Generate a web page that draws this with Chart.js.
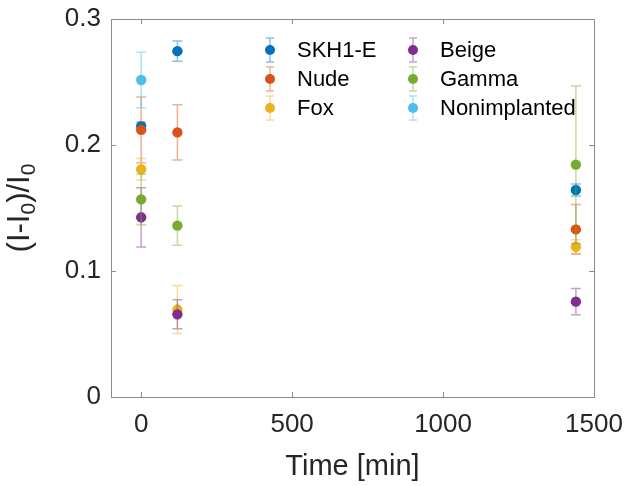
<!DOCTYPE html>
<html>
<head>
<meta charset="utf-8">
<script src="https://cdn.jsdelivr.net/npm/chart.js@4.4.0/dist/chart.umd.min.js"></script>
<style>
html, body { margin: 0; padding: 0; background: #fff; }
</style>
</head>
<body>
<canvas id="myChart" width="627" height="486"></canvas>
<script>
// time points (min)
var times = [0, 120, 1440];

var names = ['SKH1-E', 'Nude', 'Fox', 'Beige', 'Gamma', 'Nonimplanted'];

// means and error half-widths
var skh1e = [0.215, 0.2745, 0.1643];
var skh1eErr = [0.003, 0.008, 0.0048];
var nude = [0.212, 0.210, 0.133];
var nudeErr = [0.026, 0.022, 0.0197];
var fox = [0.1807, 0.0694, 0.1193];
var foxErr = [0.0085, 0.019, 0.0055];
var beige = [0.1426, 0.0656, 0.0757];
var beigeErr = [0.0235, 0.0115, 0.0105];
var gamma = [0.1568, 0.136, 0.1844];
var gammaErr = [0.020, 0.0155, 0.0625];
var nonimpl = [0.2516, null, null];
var nonimplErr = [0.022, null, null];

var xTicks = [0, 500, 1000, 1500];
var yTicks = [0, 0.1, 0.2, 0.3];

var colors = ['#0072BD', '#D95319', '#EDB120', '#7E2F8E', '#77AC30', '#4DBEEE'];
var barColors = ['rgba(0,114,189,0.45)', 'rgba(217,83,25,0.45)', 'rgba(237,177,32,0.45)',
                 'rgba(126,47,142,0.45)', 'rgba(119,172,48,0.45)', 'rgba(77,190,238,0.45)'];

var series = [skh1e, nude, fox, beige, gamma, nonimpl];
var errs = [skh1eErr, nudeErr, foxErr, beigeErr, gammaErr, nonimplErr];

var datasets = series.map(function (vals, i) {
    var pts = [], e = [];
    times.forEach(function (t, j) {
        if (vals[j] != null) {
            pts.push({x: t, y: vals[j]});
            e.push(errs[i][j]);
        }
    });
    return {
        label: names[i],
        data: pts,
        errors: e,
        barColor: barColors[i],
        backgroundColor: colors[i],
        borderWidth: 0,
        pointRadius: 5.2,
        pointHoverRadius: 5.2,
        order: names.length - i
    };
});

var axisColor = '#8c8c8c';
var textColor = '#262626';

/* error bars, drawn just before each dataset's markers */
var errorBars = {
    id: 'errorBars',
    beforeDatasetDraw: function (chart, args) {
        var ds = chart.data.datasets[args.index];
        var xs = chart.scales.x, ys = chart.scales.y;
        var ctx = chart.ctx;
        ctx.save();
        ctx.strokeStyle = ds.barColor;
        ctx.lineWidth = 1.5;
        ds.data.forEach(function (p, k) {
            var px = xs.getPixelForValue(p.x);
            var top = ys.getPixelForValue(p.y + ds.errors[k]);
            var bot = ys.getPixelForValue(p.y - ds.errors[k]);
            ctx.beginPath();
            ctx.moveTo(px, top); ctx.lineTo(px, bot);
            ctx.moveTo(px - 5, top); ctx.lineTo(px + 5, top);
            ctx.moveTo(px - 5, bot); ctx.lineTo(px + 5, bot);
            ctx.stroke();
        });
        ctx.restore();
    }
};

/* box, inward ticks, axis titles and the two-column legend */
var decorations = {
    id: 'decorations',
    afterDraw: function (chart) {
        var ctx = chart.ctx, a = chart.chartArea;
        var xs = chart.scales.x, ys = chart.scales.y;
        ctx.save();
        ctx.strokeStyle = axisColor;
        ctx.lineWidth = 1;
        ctx.strokeRect(Math.round(a.left) + 0.5, Math.round(a.top) + 0.5,
            Math.round(a.right - a.left), Math.round(a.bottom - a.top));
        ctx.beginPath();
        xTicks.forEach(function (v) {
            var px = Math.round(xs.getPixelForValue(v)) + 0.5;
            ctx.moveTo(px, a.bottom); ctx.lineTo(px, a.bottom - 5);
            ctx.moveTo(px, a.top); ctx.lineTo(px, a.top + 5);
        });
        yTicks.forEach(function (v) {
            var py = Math.round(ys.getPixelForValue(v)) + 0.5;
            ctx.moveTo(a.left, py); ctx.lineTo(a.left + 5, py);
            ctx.moveTo(a.right, py); ctx.lineTo(a.right - 5, py);
        });
        ctx.stroke();

        // x title
        ctx.fillStyle = textColor;
        ctx.font = '29px "Liberation Sans", Arial, sans-serif';
        ctx.textAlign = 'center';
        ctx.textBaseline = 'alphabetic';
        ctx.fillText('Time [min]', (a.left + a.right) / 2, 475);

        // y title with subscripts
        var parts = [['(I-I', 0], ['0', 1], [')/I', 0], ['0', 1]];
        var big = '31px "Liberation Sans", Arial, sans-serif';
        var small = '21px "Liberation Sans", Arial, sans-serif';
        var w = 0;
        parts.forEach(function (p) { ctx.font = p[1] ? small : big; w += ctx.measureText(p[0]).width; });
        ctx.translate(29, (a.top + a.bottom) / 2);
        ctx.rotate(-Math.PI / 2);
        ctx.textAlign = 'left';
        var cx = -w / 2;
        parts.forEach(function (p) {
            ctx.font = p[1] ? small : big;
            ctx.fillText(p[0], cx, p[1] ? 6 : 0);
            cx += ctx.measureText(p[0]).width;
        });
        ctx.setTransform(1, 0, 0, 1, 0, 0);

        // legend
        ctx.font = '22px "Liberation Sans", Arial, sans-serif';
        ctx.textAlign = 'left';
        ctx.textBaseline = 'middle';
        chart.data.datasets.forEach(function (ds, i) {
            var col = Math.floor(i / 3), row = i % 3;
            var mx = [270, 413][col], tx = [297, 440][col];
            var my = 50 + row * 29;
            ctx.strokeStyle = ds.barColor;
            ctx.lineWidth = 1.5;
            ctx.beginPath();
            ctx.moveTo(mx, my - 12); ctx.lineTo(mx, my + 12);
            ctx.moveTo(mx - 4, my - 12); ctx.lineTo(mx + 4, my - 12);
            ctx.moveTo(mx - 4, my + 12); ctx.lineTo(mx + 4, my + 12);
            ctx.stroke();
            ctx.fillStyle = ds.backgroundColor;
            ctx.beginPath();
            ctx.arc(mx, my, 5, 0, Math.PI * 2);
            ctx.fill();
            ctx.fillStyle = '#000';
            ctx.fillText(ds.label, tx, my + 1);
        });
        ctx.restore();
    }
};

var ctx = document.getElementById('myChart').getContext('2d');
var myChart = new Chart(ctx, {
    type: 'scatter',
    data: { datasets: datasets },
    options: {
        responsive: false,
        animation: false,
        events: [],
        layout: { padding: { left: 0, top: 19, right: 33, bottom: 0 } },
        plugins: {
            legend: { display: false },
            tooltip: { enabled: false }
        },
        scales: {
            x: {
                type: 'linear',
                min: -100,
                max: 1500,
                grid: { display: false, drawTicks: false },
                border: { display: false },
                afterBuildTicks: function (s) { s.ticks = xTicks.map(function (v) { return {value: v}; }); },
                afterFit: function (s) { s.height = 89; s.paddingLeft = 0; s.paddingRight = 0; },
                ticks: {
                    color: textColor,
                    padding: 12,
                    maxRotation: 0,
                    autoSkip: false,
                    font: { family: '"Liberation Sans", Arial, sans-serif', size: 26 },
                    callback: function (v) { return String(v); }
                }
            },
            y: {
                min: 0,
                max: 0.3,
                grid: { display: false, drawTicks: false },
                border: { display: false },
                afterBuildTicks: function (s) { s.ticks = yTicks.map(function (v) { return {value: v}; }); },
                afterFit: function (s) { s.width = 111; s.paddingTop = 0; s.paddingBottom = 0; },
                ticks: {
                    color: textColor,
                    padding: 10,
                    autoSkip: false,
                    font: { family: '"Liberation Sans", Arial, sans-serif', size: 26 },
                    callback: function (v) { return String(Math.round(v * 10) / 10); }
                }
            }
        }
    },
    plugins: [errorBars, decorations]
});
</script>
</body>
</html>
